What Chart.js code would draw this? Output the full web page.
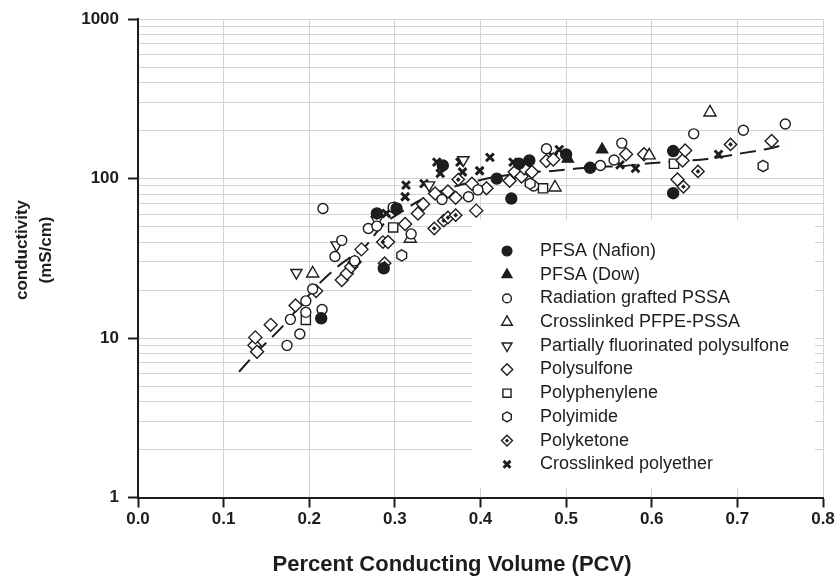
<!DOCTYPE html>
<html>
<head>
<meta charset="utf-8">
<title>Conductivity vs PCV</title>
<script src="https://cdn.jsdelivr.net/npm/chart.js@4.4.1/dist/chart.umd.min.js"></script>
<style>
  html, body { margin: 0; padding: 0; background: #fff; }
</style>
</head>
<body>
<canvas id="pcvChart" width="837" height="583"></canvas>
<script>
// values, [PCV, conductivity mS/cm]
const xTicks = [0, 0.1, 0.2, 0.3, 0.4, 0.5, 0.6, 0.7, 0.8];
const yDecades = [1, 10, 100, 1000];

const pfsaNafion = [[0.214, 13.3], [0.279, 60.5], [0.287, 27.4], [0.302, 65], [0.356, 121], [0.419, 100],
  [0.436, 75], [0.445, 124], [0.457, 130], [0.500, 142], [0.528, 117], [0.625, 149], [0.625, 81]];
const pfsaDow = [[0.502, 133], [0.542, 152]];
const radGrafted = [[0.174, 9.0], [0.178, 13.1], [0.189, 10.6], [0.196, 17.1], [0.196, 14.5], [0.204, 20.3],
  [0.215, 15.1], [0.216, 65], [0.230, 32.5], [0.238, 41], [0.253, 30.5], [0.269, 48.7], [0.279, 50.4],
  [0.298, 66], [0.319, 45], [0.355, 74], [0.386, 77], [0.397, 85], [0.462, 90], [0.477, 154], [0.540, 121],
  [0.556, 131], [0.565, 167], [0.649, 191], [0.707, 201], [0.756, 220]];
const pfpePssa = [[0.204, 25.4], [0.318, 42], [0.487, 88], [0.597, 140], [0.668, 260]];
const partFluoro = [[0.185, 25.7], [0.232, 38.3], [0.279, 55], [0.340, 91], [0.380, 131]];
const polysulfone = [[0.136, 9.0], [0.137, 10.1], [0.139, 8.2], [0.155, 12.1], [0.184, 16.0], [0.208, 19.7],
  [0.238, 23.1], [0.244, 25.4], [0.249, 28], [0.253, 30], [0.261, 36], [0.292, 40], [0.300, 65], [0.312, 52],
  [0.327, 60.5], [0.333, 69], [0.347, 80.6], [0.362, 83], [0.371, 76], [0.390, 93], [0.395, 63], [0.407, 87],
  [0.434, 97], [0.440, 110], [0.448, 103], [0.451, 116], [0.460, 110], [0.477, 129], [0.485, 132],
  [0.570, 142], [0.591, 142], [0.630, 98.6], [0.636, 130], [0.639, 150], [0.740, 172]];
const polyphenylene = [[0.196, 13], [0.298, 49.4], [0.473, 87], [0.626, 124]];
const polyimide = [[0.308, 33], [0.458, 93], [0.730, 120]];
const polyketone = [[0.286, 40], [0.288, 29.5], [0.346, 48.7], [0.357, 54.5], [0.362, 57], [0.371, 59],
  [0.374, 98.6], [0.637, 89], [0.654, 111], [0.692, 164]];
const xlPolyether = [[0.290, 60.5], [0.312, 77], [0.313, 91], [0.334, 93], [0.349, 127], [0.353, 108],
  [0.376, 127], [0.379, 110], [0.399, 112], [0.411, 136], [0.438, 127], [0.485, 137], [0.492, 152],
  [0.563, 122], [0.581, 116], [0.678, 142]];
const fitLine = [[0.118, 6.15], [0.141, 8.4], [0.168, 11.7], [0.206, 20.4], [0.224, 25.4], [0.238, 29.4],
  [0.265, 37.5], [0.287, 52], [0.308, 62], [0.329, 73], [0.360, 86], [0.400, 98], [0.420, 103],
  [0.462, 110], [0.487, 112], [0.516, 116], [0.548, 119], [0.567, 120], [0.598, 125], [0.665, 133],
  [0.704, 144], [0.736, 154], [0.758, 165]];

const ink = '#1d1d1d';
const gridGray = '#d3d3d3';
const fontFamily = '"Liberation Sans", Arial, Helvetica, sans-serif';
const toPoints = (pairs) => pairs.map(([x, y]) => ({ x, y }));

// extra marker shapes Chart.js has no built-in style for
function drawHexagon(ctx, x, y, r) {
  ctx.beginPath();
  for (let k = 0; k < 6; k++) {
    const a = -Math.PI / 2 + k * Math.PI / 3;
    ctx.lineTo(x + r * Math.cos(a), y + r * Math.sin(a));
  }
  ctx.closePath();
  ctx.fillStyle = '#fff';
  ctx.fill();
  ctx.strokeStyle = ink;
  ctx.lineWidth = 1.4;
  ctx.stroke();
}

function drawInnerDot(ctx, x, y, r) {
  ctx.beginPath();
  ctx.moveTo(x, y - r); ctx.lineTo(x + r, y); ctx.lineTo(x, y + r); ctx.lineTo(x - r, y);
  ctx.closePath();
  ctx.fillStyle = ink;
  ctx.fill();
}

function series(label, pairs, style, radius, fill, extra = {}) {
  return {
    label,
    data: toPoints(pairs),
    pointStyle: style,
    pointRadius: radius,
    pointHoverRadius: radius,
    pointBackgroundColor: fill,
    pointBorderColor: ink,
    pointBorderWidth: 1.4,
    showLine: false,
    inLegend: true,
    ...extra,
  };
}

const datasets = [
  series('PFSA (Nafion)', pfsaNafion, 'circle', 5.5, ink),
  series('PFSA (Dow)', pfsaDow, 'triangle', 6.5, ink),
  series('Radiation grafted PSSA', radGrafted, 'circle', 5, '#fff'),
  series('Crosslinked PFPE-PSSA', pfpePssa, 'triangle', 7, '#fff'),
  series('Partially fluorinated polysulfone', partFluoro, 'triangle', 6.5, '#fff', { pointRotation: 180 }),
  series('Polysulfone', polysulfone, 'rectRot', 6.5, '#fff'),
  series('Polyphenylene', polyphenylene, 'rect', 6.5, '#fff'),
  series('Polyimide', polyimide, 'circle', 0, '#fff', { marker: 'hexagon', markerSize: 5.6 }),
  series('Polyketone', polyketone, 'rectRot', 6.2, '#fff', { marker: 'dot', markerSize: 2.4 }),
  series('Crosslinked polyether', xlPolyether, 'crossRot', 5.5, ink, { pointBorderWidth: 3 }),
  {
    label: 'fit',
    data: toPoints(fitLine),
    showLine: true,
    pointRadius: 0,
    borderColor: ink,
    borderWidth: 2,
    borderDash: [16, 8],
    tension: 0.3,
    fill: false,
    inLegend: false,
  },
];

function drawExtra(ctx, ds, x, y, scale) {
  if (ds.marker === 'hexagon') drawHexagon(ctx, x, y, ds.markerSize * scale);
  if (ds.marker === 'dot') drawInnerDot(ctx, x, y, ds.markerSize * scale);
}

const legendBox = { left: 472, top: 220, right: 815, bottom: 488, symbolX: 507, textX: 540, firstRow: 251, rowStep: 23.7 };

const figureExtras = {
  id: 'figureExtras',
  beforeDatasetsDraw(chart) {
    const { ctx } = chart;
    ctx.save();
    ctx.fillStyle = '#fff';
    ctx.fillRect(legendBox.left, legendBox.top, legendBox.right - legendBox.left, legendBox.bottom - legendBox.top);
    ctx.restore();
  },
  afterDatasetsDraw(chart) {
    const { ctx } = chart;
    // hexagons and polyketone dots on top of the library's points
    chart.data.datasets.forEach((ds, i) => {
      if (!ds.marker) return;
      chart.getDatasetMeta(i).data.forEach((el) => {
        ctx.save();
        drawExtra(ctx, ds, el.x, el.y, 1);
        ctx.restore();
      });
    });
    // legend inside the plot
    let row = 0;
    chart.data.datasets.forEach((ds) => {
      if (!ds.inLegend) return;
      const y = legendBox.firstRow + row * legendBox.rowStep;
      ctx.save();
      ctx.fillStyle = ds.pointBackgroundColor;
      ctx.strokeStyle = ds.pointBorderColor;
      ctx.lineWidth = ds.pointBorderWidth;
      if (ds.pointRadius > 0) {
        Chart.helpers.drawPoint(ctx, {
          pointStyle: ds.pointStyle,
          radius: ds.pointRadius * 0.88,
          borderWidth: ds.pointBorderWidth,
          rotation: ds.pointRotation || 0,
        }, legendBox.symbolX, y);
      }
      drawExtra(ctx, ds, legendBox.symbolX, y, 0.88);
      ctx.fillStyle = ink;
      ctx.font = '18px ' + fontFamily;
      ctx.textBaseline = 'middle';
      ctx.textAlign = 'left';
      ctx.fillText(ds.label, legendBox.textX, y);
      ctx.restore();
      row += 1;
    });
  },
  afterDraw(chart) {
    const { ctx } = chart;
    ctx.save();
    ctx.fillStyle = ink;
    ctx.textAlign = 'center';
    ctx.textBaseline = 'middle';
    ctx.font = 'bold 22px ' + fontFamily;
    ctx.fillText('Percent Conducting Volume (PCV)', 452, 565);
    ctx.translate(0, 250);
    ctx.rotate(-Math.PI / 2);
    ctx.font = 'bold 17px ' + fontFamily;
    ctx.fillText('conductivity', 0, 22);
    ctx.fillText('(mS/cm)', 0, 46);
    ctx.restore();
  },
};

const tickFont = { family: fontFamily, size: 17, weight: 'bold' };

new Chart(document.getElementById('pcvChart'), {
  type: 'scatter',
  data: { datasets },
  plugins: [figureExtras],
  options: {
    responsive: false,
    animation: false,
    layout: { padding: { top: 18, right: 14, bottom: 0, left: 0 } },
    plugins: { legend: { display: false }, tooltip: { enabled: false } },
    scales: {
      x: {
        type: 'linear',
        min: 0,
        max: 0.8,
        afterBuildTicks: (scale) => { scale.ticks = xTicks.map((value) => ({ value })); },
        afterFit: (scale) => { scale.height = 85.5; },
        ticks: { callback: (v) => Number(v).toFixed(1), font: tickFont, color: ink, padding: 2, maxRotation: 0 },
        grid: { color: gridGray, lineWidth: 1, tickLength: 10, tickColor: ink, tickWidth: 2 },
        border: { color: ink, width: 2 },
      },
      y: {
        type: 'logarithmic',
        min: 1,
        max: 1000,
        afterBuildTicks: (scale) => {
          const ticks = [];
          [1, 10, 100].forEach((d) => { for (let k = 1; k < 10; k++) ticks.push({ value: d * k }); });
          ticks.push({ value: 1000 });
          scale.ticks = ticks;
        },
        afterFit: (scale) => { scale.width = 138; },
        ticks: {
          autoSkip: false,
          callback: (v) => (yDecades.includes(v) ? String(v) : ''),
          font: tickFont,
          color: ink,
          padding: 9,
        },
        grid: {
          color: gridGray,
          lineWidth: 1,
          tickLength: 10,
          tickWidth: 2,
          tickColor: (c) => (c.tick && yDecades.includes(c.tick.value) ? ink : 'rgba(0,0,0,0)'),
        },
        border: { color: ink, width: 2 },
      },
    },
  },
});
</script>
</body>
</html>
